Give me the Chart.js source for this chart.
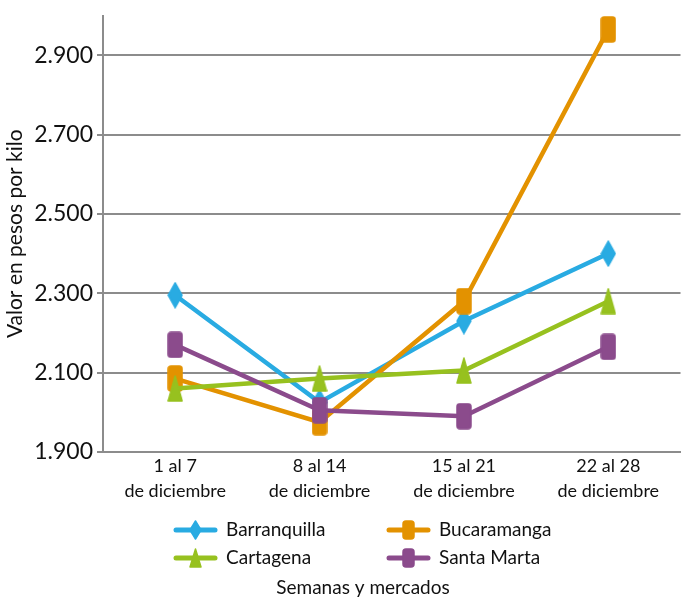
<!DOCTYPE html>
<html>
<head>
<meta charset="utf-8">
<script src="https://cdn.jsdelivr.net/npm/chart.js@4"></script>
<style>
  html, body { margin: 0; background: #fff; }
  #wrap { width: 693px; height: 600px; }
</style>
</head>
<body>
<div id="wrap"><canvas id="myChart"></canvas></div>
<script>
// data
const weeks = [
  ['1 al 7', 'de diciembre'],
  ['8 al 14', 'de diciembre'],
  ['15 al 21', 'de diciembre'],
  ['22 al 28', 'de diciembre']
];
const markets = ['Barranquilla', 'Bucaramanga', 'Cartagena', 'Santa Marta'];
const barranquilla = [2295, 2025, 2230, 2400];
const bucaramanga = [2085, 1975, 2280, 2965];
const cartagena = [2060, 2085, 2105, 2280];
const santaMarta = [2170, 2005, 1990, 2165];
const yTicks = [1900, 2100, 2300, 2500, 2700, 2900];

const FONT = 'Lato, "Noto Sans", sans-serif';
const TEXT = '#111';
const GRID = '#8c8c8c';

// tall markers like the original (drawn into small canvases, used as pointStyle)
function marker(shape, color, w, h) {
  const c = document.createElement('canvas');
  c.width = w; c.height = h;
  const g = c.getContext('2d');
  g.fillStyle = color;
  g.strokeStyle = color;
  g.lineJoin = 'round';
  g.lineWidth = 1.5;
  g.beginPath();
  if (shape === 'diamond') {
    g.moveTo(w / 2, 1); g.lineTo(w - 1, h / 2); g.lineTo(w / 2, h - 1); g.lineTo(1, h / 2);
  } else if (shape === 'triangle') {
    g.moveTo(w / 2, 1); g.lineTo(w - 1, h - 1); g.lineTo(1, h - 1);
  } else {
    g.roundRect(1, 1, w - 2, h - 2, 3);
  }
  g.closePath();
  g.fill();
  g.stroke();
  return c;
}

function makeSet(label, values, color, shape, order) {
  return {
    label: label,
    data: values,
    borderColor: color,
    backgroundColor: color,
    borderWidth: 4.5,
    tension: 0,
    pointStyle: marker(shape, color, 16, 27),
    legendMarker: marker(shape, color, 13, 20),
    pointRadius: 8,
    order: order
  };
}

const fmt = v => String(v).replace(/\B(?=(\d{3})+(?!\d))/g, '.');

// legend in two columns + x title under it, as in the original figure
const legendPlugin = {
  id: 'marketLegend',
  afterDraw(chart) {
    const ctx = chart.ctx;
    ctx.save();
    ctx.font = '19px ' + FONT;
    ctx.textBaseline = 'middle';
    chart.data.datasets.forEach((ds, i) => {
      const x = [174, 387][i % 2];
      const y = [530, 558][Math.floor(i / 2)];
      ctx.strokeStyle = ds.borderColor;
      ctx.lineWidth = 5;
      ctx.lineCap = 'round';
      ctx.beginPath();
      ctx.moveTo(x + 2, y);
      ctx.lineTo(x + 41, y);
      ctx.stroke();
      const m = ds.legendMarker;
      ctx.drawImage(m, x + 21.5 - m.width / 2, y - m.height / 2);
      ctx.fillStyle = TEXT;
      ctx.textAlign = 'left';
      ctx.fillText(ds.label, x + 52, y);
    });
    ctx.textAlign = 'center';
    ctx.fillStyle = TEXT;
    ctx.fillText('Semanas y mercados', 363, 588);
    ctx.restore();
  }
};

const config = {
  type: 'line',
  data: {
    labels: weeks,
    datasets: [
      makeSet(markets[0], barranquilla, '#29abe2', 'diamond', 3),
      makeSet(markets[1], bucaramanga, '#e39200', 'square', 2),
      makeSet(markets[2], cartagena, '#97c11f', 'triangle', 1),
      makeSet(markets[3], santaMarta, '#8b4b8c', 'square', 0)
    ]
  },
  options: {
    responsive: true,
    maintainAspectRatio: false,
    animation: false,
    layout: { padding: { top: 14, left: 3, right: 0, bottom: 94 } },
    plugins: {
      legend: { display: false },
      tooltip: { enabled: false }
    },
    scales: {
      x: {
        offset: true,
        grid: { display: false, drawTicks: false },
        border: { display: true, color: GRID, width: 2 },
        ticks: {
          color: TEXT,
          font: { family: FONT, size: 18, lineHeight: 1.39 },
          maxRotation: 0,
          padding: 2
        }
      },
      y: {
        min: 1900,
        max: 3000,
        afterBuildTicks: scale => {
          scale.ticks = yTicks.map(v => ({ value: v }));
        },
        grid: { color: GRID, lineWidth: 2, tickLength: 6 },
        border: { display: true, color: GRID, width: 2 },
        ticks: {
          color: TEXT,
          font: { family: FONT, size: 23, lineHeight: 1 },
          padding: 4,
          callback: v => fmt(v)
        },
        title: {
          display: true,
          text: 'Valor en pesos por kilo',
          color: TEXT,
          font: { family: FONT, size: 21 },
          padding: { top: 0, bottom: 2 }
        }
      }
    }
  },
  plugins: [legendPlugin]
};

const myChart = new Chart(document.getElementById('myChart'), config);
</script>
</body>
</html>
